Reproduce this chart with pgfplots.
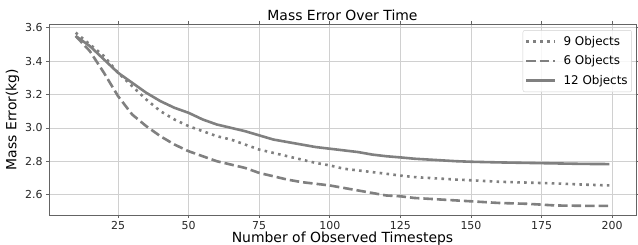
\documentclass[border=0pt]{standalone}
\usepackage{pgfplots}
\pgfplotsset{compat=1.18}
\usepackage{fontspec}
\setmainfont{DejaVu Sans}
\definecolor{lc}{RGB}{128,128,128}
\definecolor{gc}{RGB}{208,208,208}
\definecolor{fc}{RGB}{100,100,100}
\begin{document}
\begin{tikzpicture}
\begin{axis}[
  scale only axis, width=587bp, height=191bp,
  xmin=0.55, xmax=208.45, ymin=2.478, ymax=3.622,
  xtick={25,50,75,100,125,150,175,200},
  ytick={2.6,2.8,3.0,3.2,3.4,3.6},
  yticklabel style={/pgf/number format/.cd, fixed, fixed zerofill, precision=1},
  /pgf/number format/assume math mode=true,
  tick label style={font=\fontsize{11}{13}\selectfont, text=black!85},
  tick align=outside, tick style={fc, line width=0.6pt}, major tick length=3bp,
  axis line style={fc, line width=0.8pt},
  grid=major, grid style={gc, line width=0.6pt},
  title={Mass Error Over Time},
  title style={font=\fontsize{14}{16}\selectfont, yshift=-6bp},
  xlabel={Number of Observed Timesteps},
  ylabel={Mass Error(kg)},
  label style={font=\fontsize{14}{16}\selectfont},
  xlabel style={yshift=5bp},
  ylabel style={yshift=-1bp},
  legend style={font=\fontsize{12}{14}\selectfont, draw=gc, rounded corners=2pt, fill=white, fill opacity=0.85, text opacity=1, row sep=5pt, inner xsep=2pt, inner ysep=4pt, at={(0.993,0.968)}, anchor=north east},
  legend cell align=left,
  legend image code/.code={\draw[#1] (0bp,0bp) -- (29bp,0bp); \path (34bp,0bp);},
]
\addplot[lc, line width=2.6bp, dash pattern=on 2.6bp off 4.3bp] coordinates {
(10,3.57)(15,3.50)(20,3.43)(25,3.33)(30,3.25)(35,3.17)(40,3.10)(45,3.05)(50,3.01)(55,2.98)(60,2.95)(65,2.93)(70,2.90)(75,2.87)(80,2.85)(85,2.83)(90,2.81)(95,2.79)(100,2.775)(105,2.755)(110,2.745)(115,2.735)(120,2.725)(125,2.714)(130,2.705)(135,2.70)(140,2.695)(145,2.69)(150,2.686)(160,2.677)(170,2.672)(180,2.667)(190,2.66)(199,2.655)};
\addlegendentry{9 Objects}
\addplot[lc, line width=2.6bp, dash pattern=on 9.5bp off 4bp] coordinates {
(10,3.55)(15,3.46)(20,3.33)(25,3.19)(30,3.08)(35,3.01)(40,2.95)(45,2.90)(50,2.86)(55,2.83)(60,2.80)(65,2.78)(70,2.76)(75,2.73)(80,2.71)(85,2.69)(90,2.675)(95,2.665)(100,2.655)(105,2.64)(110,2.625)(115,2.61)(120,2.595)(125,2.59)(130,2.58)(135,2.575)(140,2.57)(145,2.565)(150,2.56)(160,2.55)(170,2.545)(180,2.535)(190,2.533)(199,2.533)};
\addlegendentry{6 Objects}
\addplot[lc, line width=2.6bp] coordinates {
(10,3.55)(15,3.49)(20,3.41)(25,3.33)(30,3.27)(35,3.21)(40,3.16)(45,3.12)(50,3.09)(55,3.05)(60,3.02)(65,3.00)(70,2.98)(75,2.955)(80,2.93)(85,2.915)(90,2.90)(95,2.885)(100,2.875)(105,2.865)(110,2.855)(115,2.84)(120,2.83)(125,2.823)(130,2.815)(135,2.81)(140,2.805)(145,2.80)(150,2.797)(160,2.793)(170,2.79)(180,2.787)(190,2.784)(199,2.783)};
\addlegendentry{12 Objects}
\end{axis}
\pgfresetboundingbox
\path ([shift={(-49bp,-30bp)}]current axis.south west) rectangle ([shift={(2bp,24bp)}]current axis.north east);
\end{tikzpicture}
\end{document}
